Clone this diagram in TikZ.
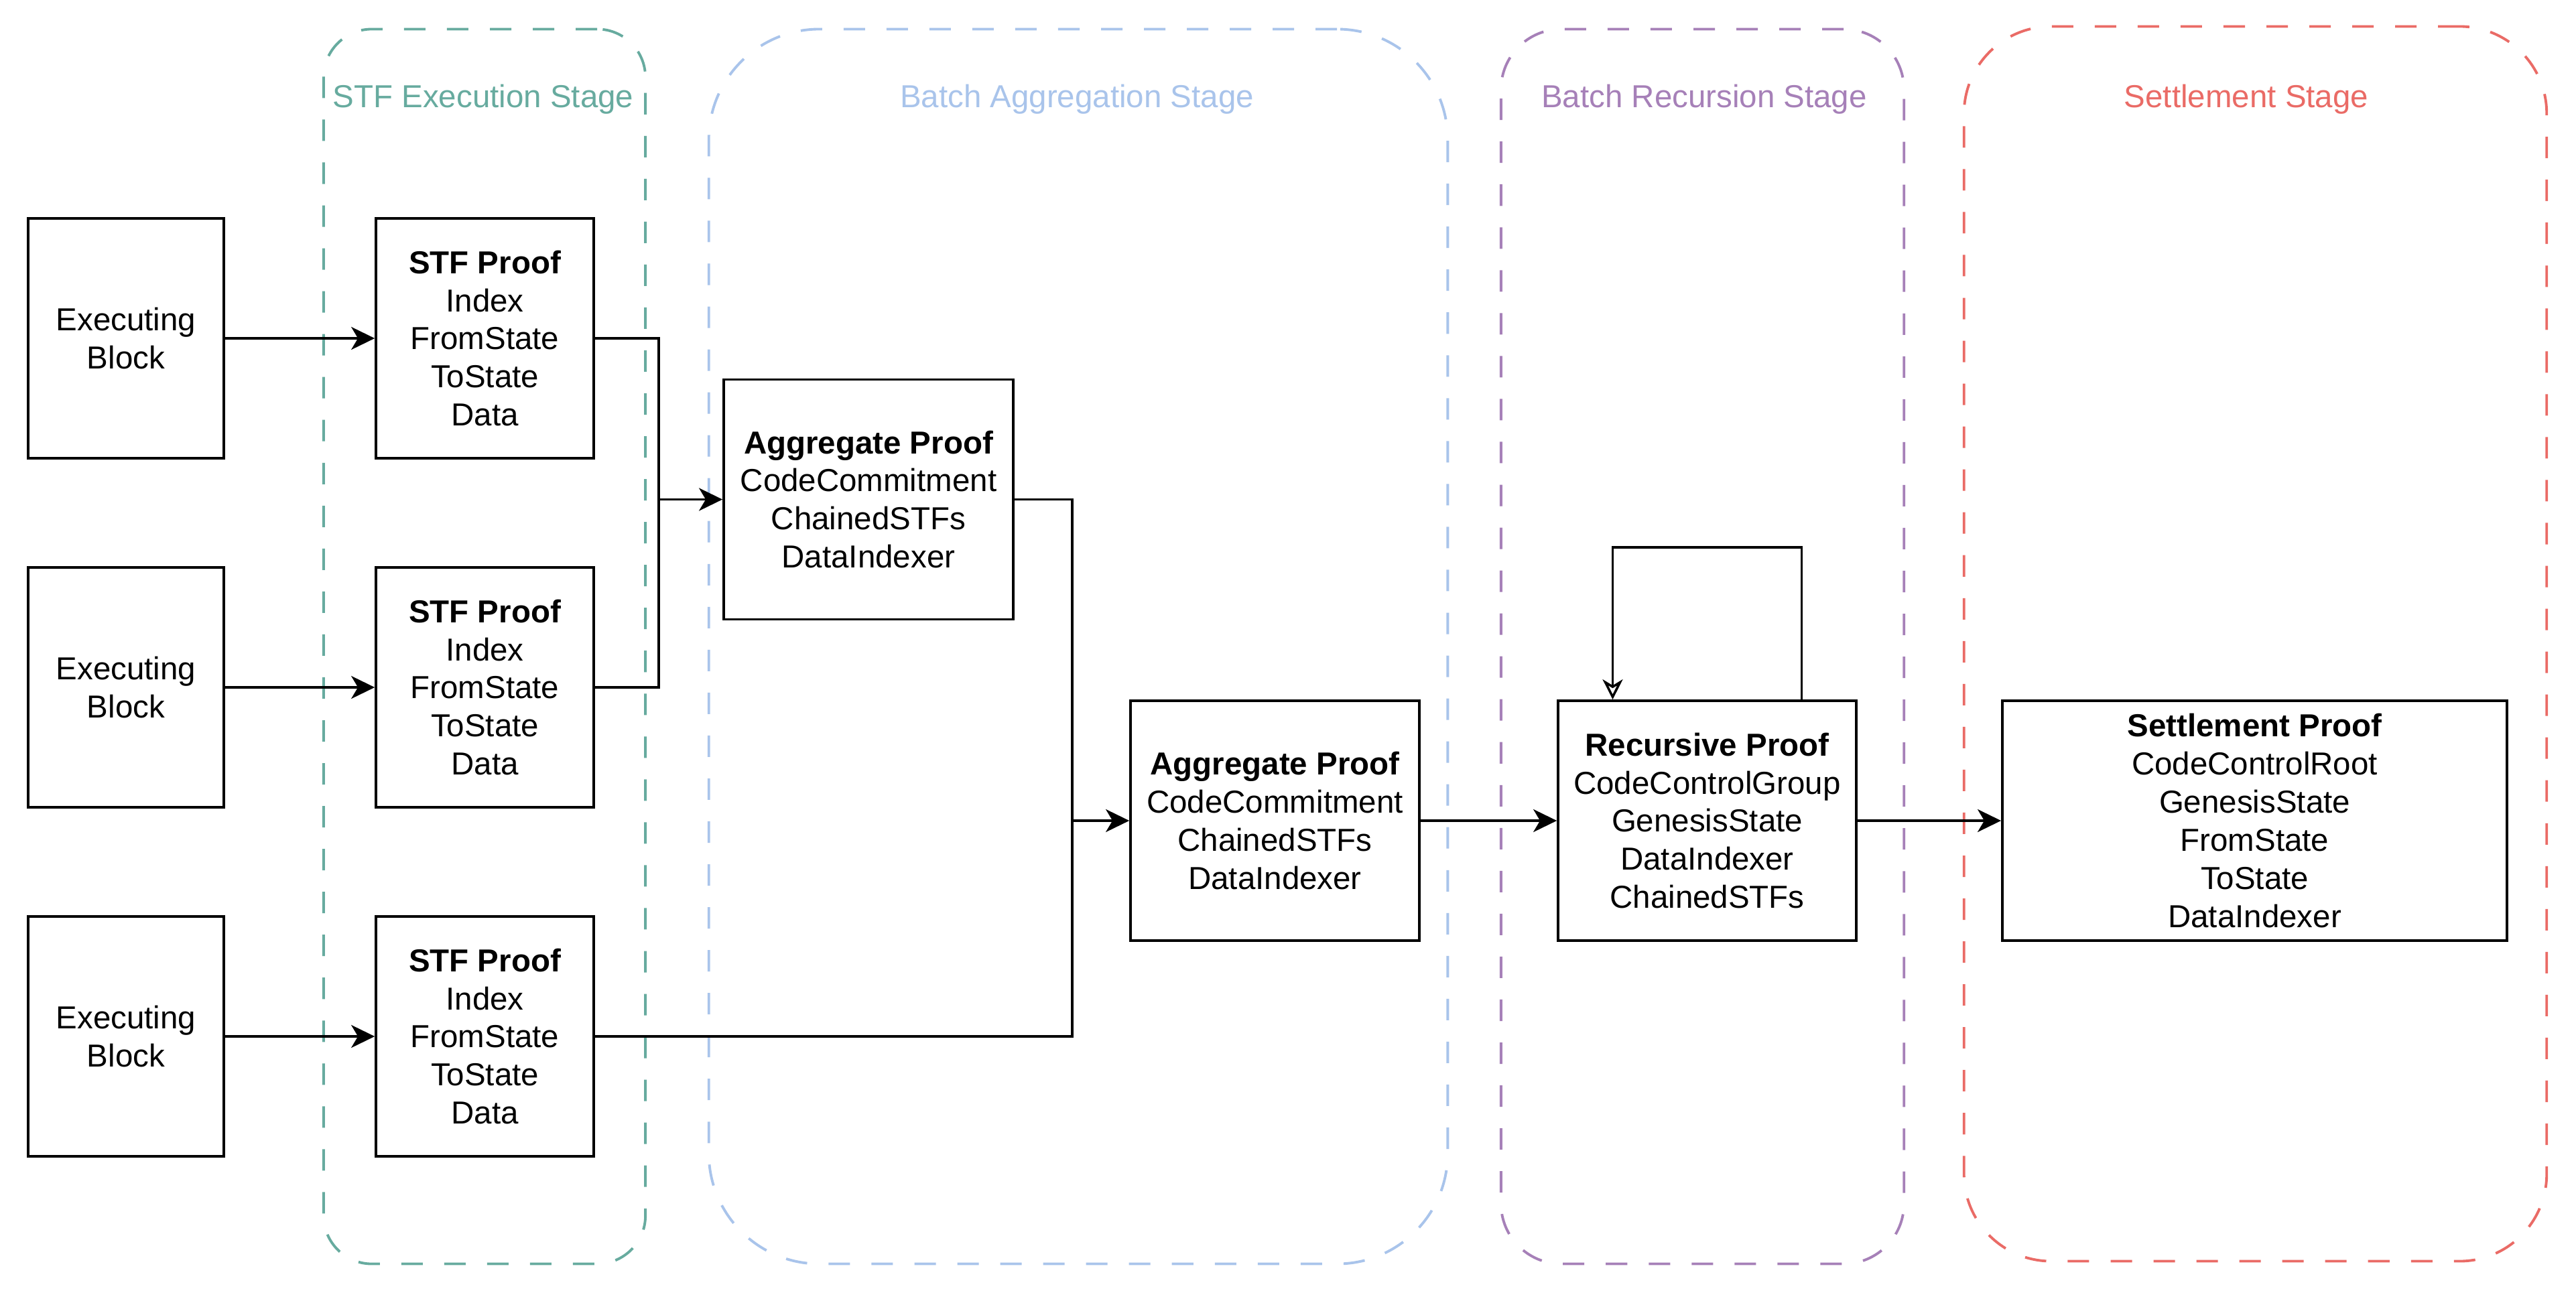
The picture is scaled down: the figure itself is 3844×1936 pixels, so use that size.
\documentclass[tikz,border=0pt]{standalone}
\usepackage{fontspec}
\setmainfont{Liberation Sans}
\usepackage{tikz}
\usetikzlibrary{arrows.meta}
\usetikzlibrary{positioning}
\definecolor{cexec}{HTML}{67AB9F}
\definecolor{cagg}{HTML}{A9C4EB}
\definecolor{crec}{HTML}{A680B8}
\definecolor{cset}{HTML}{EA6B66}

\begin{document}
\begin{tikzpicture}[x=0.01cm, y=-0.01cm,
b/.style={draw, fill=white, line width=1pt, minimum height=3.58cm, inner sep=0pt, align=center, font=\fontsize{13.5}{16.2}\selectfont},
st/.style={draw=#1, line width=1.1pt, dash pattern=on 0.32cm off 0.32cm, minimum height=18.42cm, inner sep=0pt},
lbl/.style={text=#1, inner sep=0pt, anchor=base, font=\fontsize{13.5}{16.2}\selectfont},
arr/.style={line width=1pt, -{Stealth[length=3.5mm, width=3.4mm, inset=1mm]}},
ln/.style={line width=1pt}]
\useasboundingbox (0,0) rectangle (3844,1936);
\fill[white] (0,0) rectangle (3844,1936);

\node[st=cexec, minimum width=4.8cm, rounded corners=0.72cm] (sExec) at (723,965) {};
\node[st=cagg, minimum width=11.02cm, rounded corners=1.65cm] (sAgg) at (1609,965) {};
\node[st=crec, minimum width=6.01cm, rounded corners=0.9cm] (sRec) at (2540.5,965) {};
\node[st=cset, minimum width=8.69cm, rounded corners=1.3cm] (sSet) at (3365.5,961) {};
\node[lbl=cexec] (lExec) at (721,160) {STF Execution Stage};
\node[lbl=cagg] (lAgg) at (1607,160) {Batch Aggregation Stage};
\node[lbl=crec] (lRec) at (2543,160) {Batch Recursion Stage};
\node[lbl=cset] (lSet) at (3352,160) {Settlement Stage};

\node[b, minimum width=2.92cm] (eb1) at (188,505) {Executing\\Block};
\node[b, minimum width=2.92cm] (eb2) at (188,1026) {Executing\\Block};
\node[b, minimum width=2.92cm] (eb3) at (188,1547) {Executing\\Block};
\node[b, minimum width=3.25cm] (stf1) at (723.5,505) {\textbf{STF Proof}\\Index\\FromState\\ToState\\Data};
\node[b, minimum width=3.25cm] (stf2) at (723.5,1026) {\textbf{STF Proof}\\Index\\FromState\\ToState\\Data};
\node[b, minimum width=3.25cm] (stf3) at (723.5,1547) {\textbf{STF Proof}\\Index\\FromState\\ToState\\Data};
\node[b, minimum width=4.32cm] (agg1) at (1296,745.5) {\textbf{Aggregate Proof}\\CodeCommitment\\ChainedSTFs\\DataIndexer};
\node[b, minimum width=4.31cm] (agg2) at (1902.5,1225) {\textbf{Aggregate Proof}\\CodeCommitment\\ChainedSTFs\\DataIndexer};
\node[b, minimum width=4.45cm] (rec) at (2547.5,1225) {\textbf{Recursive Proof}\\CodeControlGroup\\GenesisState\\DataIndexer\\ChainedSTFs};
\node[b, minimum width=7.53cm] (set) at (3364.5,1225) {\textbf{Settlement Proof}\\CodeControlRoot\\GenesisState\\FromState\\ToState\\DataIndexer};

\coordinate (jA) at (983,745.5);
\coordinate (jB) at (1600,1225);
\coordinate (lpR) at (2688.5,817);
\coordinate (lpL) at (2406.5,817);

\draw[arr] (eb1) -- (stf1);
\draw[arr] (eb2) -- (stf2);
\draw[arr] (eb3) -- (stf3);
\draw[arr] (stf1.east) -| (jA) -- (agg1.west);
\draw[ln] (stf2.east) -| (jA);
\draw[arr] (agg1.east) -| (jB) -- (agg2.west);
\draw[ln] (stf3.east) -| (jB);
\draw[arr] (agg2) -- (rec);
\draw[arr] (rec) -- (set);
\draw[line width=1pt, -{Stealth[open, length=3mm, width=3mm, inset=0.9mm]}] (rec.north -| lpR) -- (lpR) -- (lpL) -- (rec.north -| lpL);
\end{tikzpicture}
\end{document}
